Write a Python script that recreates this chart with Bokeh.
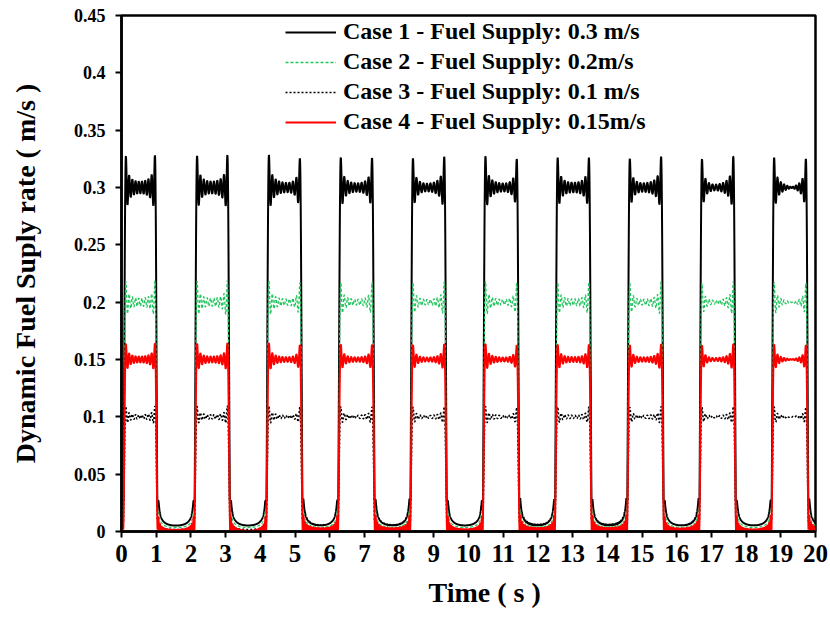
import numpy as np
from bokeh.plotting import figure
from bokeh.models import Legend, LegendItem, FixedTicker, Range1d, Title
from bokeh.embed import file_html
from bokeh.resources import INLINE

# ---- data -------------------------------------------------------------
# switching instants of the pulsed fuel supply (s)
rise_times = [0.08, 2.13, 4.20, 6.27, 8.35, 10.44, 12.52, 14.60, 16.68, 18.76]
fall_times = [1.01, 3.10, 5.19, 7.27, 9.35, 11.44, 13.52, 15.60, 17.68, 19.77]

case_labels = [
    "Case 1 - Fuel Supply: 0.3 m/s",
    "Case 2 - Fuel Supply: 0.2m/s",
    "Case 3 - Fuel Supply: 0.1 m/s",
    "Case 4 - Fuel Supply: 0.15m/s",
]
case_levels = [0.3, 0.2, 0.1, 0.15]  # nominal supply rate (m/s)

x_ticks = list(range(0, 21))
x_tick_labels = [str(v) for v in x_ticks]
y_ticks = [0.0, 0.05, 0.1, 0.15, 0.2, 0.25, 0.3, 0.35, 0.4, 0.45]
y_tick_labels = ["0", "0.05", "0.1", "0.15", "0.2", "0.25", "0.3", "0.35", "0.4", "0.45"]

# ---- band-limited pulse train ------------------------------------------
OMEGA = 66.0                      # actuator bandwidth (rad/s)
t = np.linspace(0.0, 20.0, 8001)

# sine integral Si(x) from a cumulative trapezoid table
xs = np.linspace(0.0, 1600.0, 400001)
sinc = np.sinc(xs / np.pi)
si_tab = np.concatenate([[0.0], np.cumsum(0.5 * (sinc[1:] + sinc[:-1]) * np.diff(xs))])


def si(x):
    return np.sign(x) * np.interp(np.abs(x), xs, si_tab)


def smooth_step(te):
    return 0.5 + si(OMEGA * (t - te)) / np.pi


shape = np.zeros_like(t)
on = np.zeros(t.shape, dtype=bool)
for r, f in zip(rise_times, fall_times):
    shape += smooth_step(r) - smooth_step(f)
    on |= (t >= r) & (t < f)

# decay envelope of the ringing during the off phase
edges = np.array(rise_times + fall_times)
dist = np.sort(np.abs(t[:, None] - edges[None, :]), axis=1)
ring = 1.0 / (np.pi * OMEGA * np.maximum(dist[:, 0], 1e-9)) + 1.0 / (np.pi * OMEGA * dist[:, 1])
ring = np.minimum(ring, 0.0895)

off_env = np.where(on, shape, np.maximum(np.abs(shape), ring))
off_abs = np.where(on, shape, np.abs(shape))

series = [
    case_levels[0] * off_env,
    case_levels[1] * off_env,
    case_levels[2] * off_env,
    case_levels[3] * off_abs,
]
colors = ["black", "#22c55e", "black", "red"]
dashes = ["solid", "3 2", "2 2", "solid"]
widths = [2.0, 1.3, 1.6, 2.0]

# ---- figure -------------------------------------------------------------
FONT = "Liberation Serif"

p = figure(
    width=830, height=617,
    x_range=Range1d(0, 20), y_range=Range1d(0, 0.45),
    output_backend="svg", toolbar_location=None,
    min_border_left=121, min_border_right=15,
    min_border_top=15, min_border_bottom=86,
)
p.background_fill_color = "white"
p.border_fill_color = "white"
p.outline_line_color = "black"
p.outline_line_width = 2.5
p.xgrid.visible = False
p.ygrid.visible = False

renderers = []
for ys, c, d, w in zip(series, colors, dashes, widths):
    renderers.append(p.line(t, ys, line_color=c, line_dash=d, line_width=w))

for ax in (p.xaxis[0], p.yaxis[0]):
    ax.axis_line_width = 2.5
    ax.axis_line_color = "black"
    ax.major_tick_line_width = 2
    ax.major_tick_line_color = "black"
    ax.major_tick_in = 0
    ax.major_tick_out = 6
    ax.minor_tick_line_color = None
    ax.major_label_text_font = FONT
    ax.major_label_text_font_style = "bold"
    ax.major_label_text_color = "black"
    ax.axis_label_text_font = FONT
    ax.axis_label_text_font_style = "bold"
    ax.axis_label_text_color = "black"

p.xaxis.ticker = FixedTicker(ticks=x_ticks)
p.xaxis.major_label_overrides = dict(zip(x_ticks, x_tick_labels))
p.xaxis.major_label_text_font_size = "25px"
p.xaxis.major_label_standoff = 7

p.yaxis.ticker = FixedTicker(ticks=y_ticks)
p.yaxis.major_label_overrides = dict(zip(y_ticks, y_tick_labels))
p.yaxis.major_label_text_font_size = "18px"
p.yaxis.major_label_standoff = 10
p.yaxis.axis_label = "Dynamic Fuel Suply rate ( m/s )"
p.yaxis.axis_label_text_font_size = "28px"
p.yaxis.axis_label_standoff = 30

# time axis caption, set a little right of the frame centre
x_title = Title(
    text="Time ( s )", align="left", offset=307,
    text_font=FONT, text_font_style="bold", text_font_size="28px",
    text_color="black", standoff=20,
)
p.add_layout(x_title, "below")

legend = Legend(
    items=[LegendItem(label=lab, renderers=[r]) for lab, r in zip(case_labels, renderers)],
    location=(164, 396),
    orientation="vertical",
    background_fill_alpha=0.0,
    border_line_color=None,
    padding=0, margin=0, spacing=3,
    glyph_width=51, glyph_height=24, label_height=24,
    label_standoff=7,
    label_text_font=FONT, label_text_font_style="bold",
    label_text_font_size="24px", label_text_color="black",
)
p.add_layout(legend)

open("out.html", "w").write(file_html(p, INLINE))
